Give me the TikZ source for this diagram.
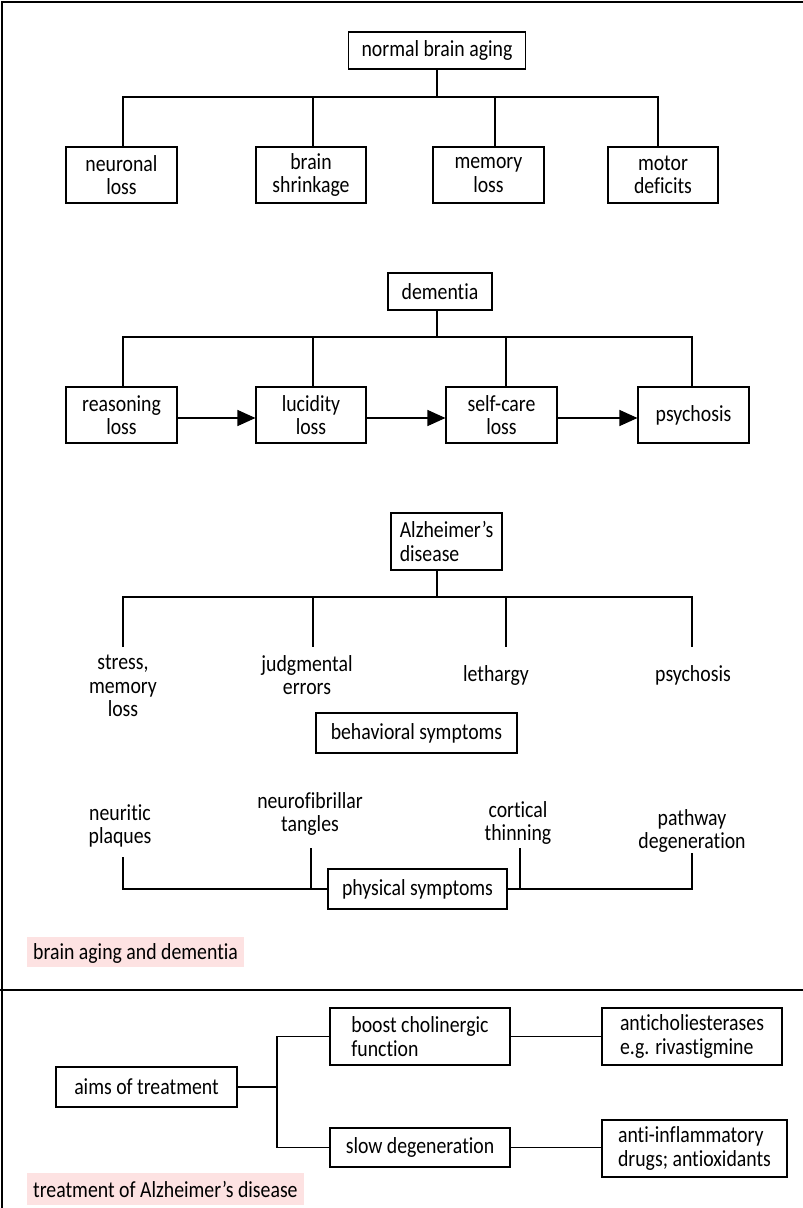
\documentclass[tikz,border=0pt]{standalone}
\usepackage{fontspec}
\setmainfont{Carlito}[FakeStretch=0.86, Ligatures=NoCommon]
\usetikzlibrary{arrows.meta}
\definecolor{tagpink}{HTML}{FDE2E2}
\begin{document}
\begin{tikzpicture}[x=1pt,y=-1pt,
  every node/.style={font=\fontsize{23}{23.5}\selectfont, inner sep=0pt},
  box/.style={draw, line width=1.1pt, align=center},
  lbl/.style={align=center},
  conn/.style={line width=1.1pt},
  arr/.style={line width=1.1pt, -{Triangle[length=18pt,width=16pt]}},
  tag/.style={fill=tagpink, anchor=west, inner xsep=6pt, text depth=0pt}
]
\useasboundingbox (0,0) rectangle (803,1208);
% frame
\draw[line width=1.2pt] (2,1208) -- (2,2) -- (803,2);
\draw[line width=1.2pt] (0,990) -- (803,990);

% --- normal brain aging ---
\node[box, minimum width=177pt, minimum height=37pt] (nba) at (437,50.5) {normal brain aging};
\node[box, minimum width=111pt, minimum height=56pt] (nl) at (121.5,175) {neuronal\\loss};
\node[box, minimum width=110pt, minimum height=56pt] (bs) at (311,175) {brain\\shrinkage};
\node[box, minimum width=111pt, minimum height=56pt] (ml) at (488.5,175) {memory\\loss};
\node[box, minimum width=110pt, minimum height=56pt] (md) at (663,175) {motor\\deficits};
\coordinate (j1) at (437,97);
\draw[conn] (nba.south) -- (j1);
\draw[conn] (nl.north -| 123,0) -- (123,97) -- (658,97) -- (md.north -| 658,0);
\draw[conn] (313,97) -- (bs.north -| 313,0);
\draw[conn] (495,97) -- (ml.north -| 495,0);

% --- dementia ---
\node[box, minimum width=104pt, minimum height=37pt] (dem) at (440,291.5) {dementia};
\node[box, minimum width=111pt, minimum height=56pt] (rl) at (121.5,415) {reasoning\\loss};
\node[box, minimum width=110pt, minimum height=56pt] (ll) at (311,415) {lucidity\\loss};
\node[box, minimum width=111pt, minimum height=56pt] (sl) at (501.5,415) {self-care\\loss};
\node[box, minimum width=111pt, minimum height=56pt] (ps) at (693.5,415) {psychosis};
\draw[conn] (dem.south -| 437,0) -- (437,337);
\draw[conn] (rl.north -| 123,0) -- (123,337) -- (692,337) -- (ps.north -| 692,0);
\draw[conn] (313,337) -- (ll.north -| 313,0);
\draw[conn] (506,337) -- (sl.north -| 506,0);
\draw[arr] (rl.east |- 0,418) -- (ll.west |- 0,418);
\draw[arr] (ll.east |- 0,418) -- (sl.west |- 0,418);
\draw[arr] (sl.east |- 0,418) -- (ps.west |- 0,418);

% --- Alzheimer's disease ---
\node[box, minimum width=111pt, minimum height=57pt, align=left] (ad) at (446.5,541.5) {Alzheimer’s\\disease};
\node[lbl, anchor=north] (s1) at (123,655) {stress,\\memory\\loss};
\node[lbl, anchor=north] (s2) at (307,655) {judgmental\\errors};
\node[lbl, anchor=north] (s3) at (496,665) {lethargy};
\node[lbl, anchor=north] (s4) at (693,665) {psychosis};
\node[box, minimum width=201pt, minimum height=40pt] (beh) at (416.5,733) {behavioral symptoms};
\draw[conn] (ad.south -| 437,0) -- (437,597);
\draw[conn] (123,647) -- (123,597) -- (692,597) -- (692,647);
\draw[conn] (313,597) -- (313,647);
\draw[conn] (506,597) -- (506,647);

% --- physical symptoms ---
\node[box, minimum width=179pt, minimum height=40pt] (phy) at (417.5,889) {physical symptoms};
\node[lbl, anchor=north] (p1) at (120,804) {neuritic\\plaques};
\node[lbl, anchor=north] (p2) at (310,792) {neurofibrillar\\tangles};
\node[lbl, anchor=north] (p3) at (518,801) {cortical\\thinning};
\node[lbl, anchor=north] (p4) at (692,809) {pathway\\degeneration};
\draw[conn] (123,857) -- (123,889) -- (phy.west);
\draw[conn] (311,848) -- (311,889);
\draw[conn] (phy.east) -- (692,889) -- (692,853);
\draw[conn] (520,848) -- (520,889);

\node[tag, minimum height=30pt] (t1) at (27,952) {brain aging and dementia};

% --- treatment ---
\node[box, minimum width=181pt, minimum height=40pt] (aims) at (146.5,1087) {aims of treatment};
\node[box, minimum width=180pt, minimum height=57pt, align=left] (boost) at (420,1036.5) {boost cholinergic\\function};
\node[box, minimum width=180pt, minimum height=39pt] (slow) at (420,1147.5) {slow degeneration};
\node[box, minimum width=180pt, minimum height=57pt, align=left] (anti) at (692,1036.5) {anticholiesterases\\e.g. rivastigmine};
\node[box, minimum width=185pt, minimum height=57pt, align=left] (antiinf) at (694.5,1148.5) {anti-inflammatory\\drugs; antioxidants};
\coordinate (jt) at (277,1087);
\draw[conn] (aims.east) -- (jt);
\draw[conn] (boost.west) -| (277,1087) |- (slow.west);
\draw[conn] (boost.east) -- (anti.west);
\draw[conn] (slow.east) -- (antiinf.west |- slow.east);

\node[tag, minimum height=32pt] (t2) at (27,1189) {treatment of Alzheimer’s disease};
\end{tikzpicture}
\end{document}
